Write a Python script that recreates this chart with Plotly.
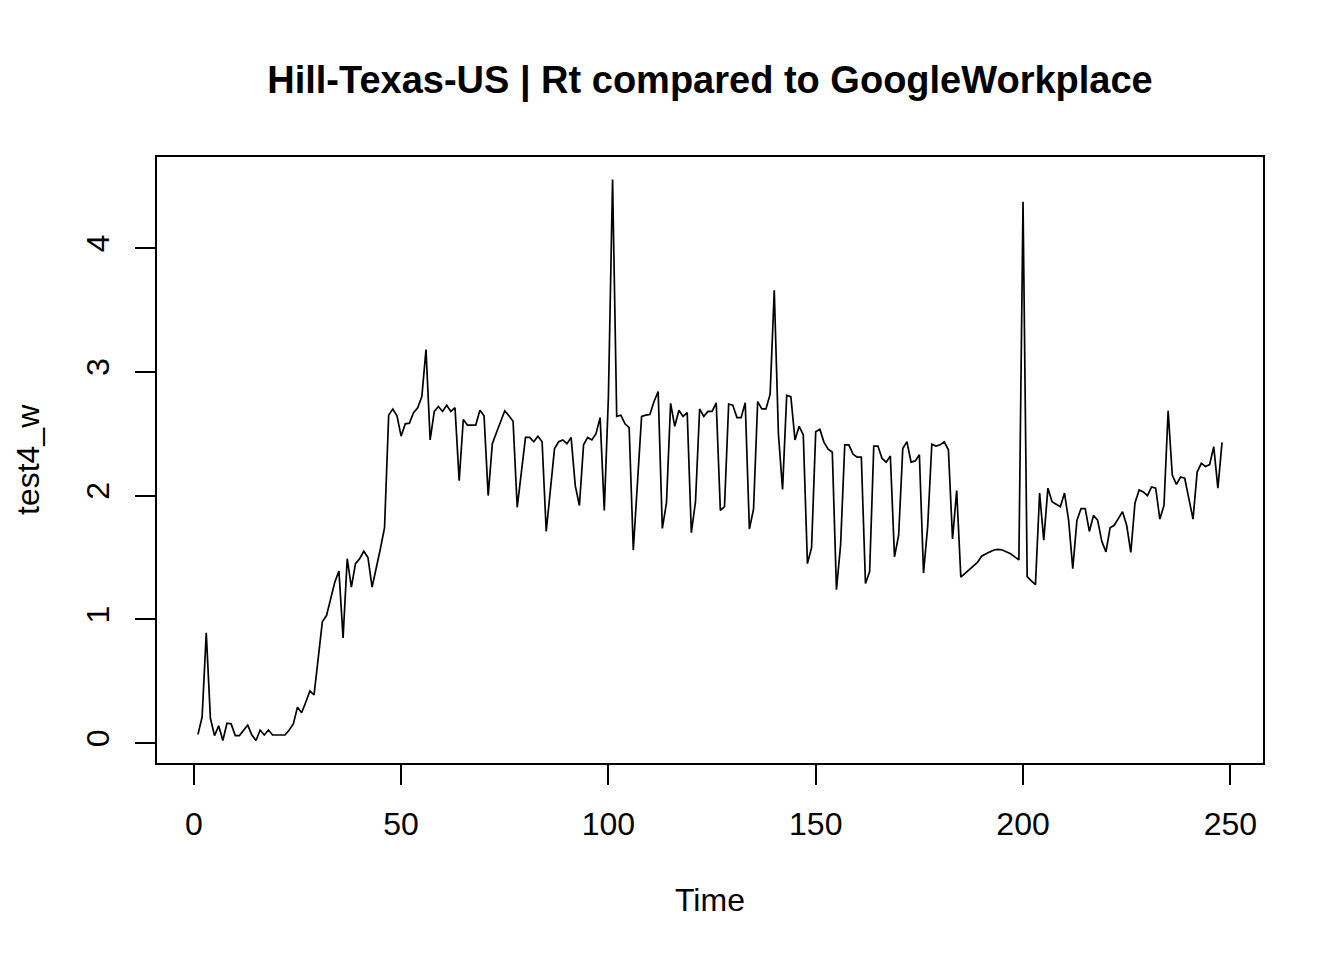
import plotly.graph_objects as go

# time index and values
time = list(range(1, 249))
test4_w = [
    0.07, 0.21, 0.89, 0.20, 0.06, 0.14, 0.02, 0.16, 0.155, 0.06,
    0.06, 0.105, 0.145, 0.065, 0.02, 0.105, 0.065, 0.105, 0.065, 0.065,
    0.065, 0.065, 0.105, 0.155, 0.29, 0.245, 0.33, 0.42, 0.39, 0.69,
    0.98, 1.03, 1.16, 1.30, 1.39, 0.85, 1.49, 1.26, 1.45, 1.49,
    1.55, 1.50, 1.26, 1.41, 1.57, 1.74, 2.65, 2.70, 2.645, 2.48,
    2.58, 2.585, 2.67, 2.71, 2.80, 3.18, 2.45, 2.68, 2.72, 2.68,
    2.73, 2.68, 2.71, 2.12, 2.615, 2.57, 2.57, 2.57, 2.69, 2.645,
    2.00, 2.42, 2.51, 2.59, 2.685, 2.645, 2.60, 1.905, 2.20, 2.47,
    2.47, 2.435, 2.48, 2.435, 1.71, 2.05, 2.38, 2.435, 2.45, 2.42,
    2.47, 2.08, 1.92, 2.41, 2.47, 2.45, 2.50, 2.63, 1.88, 2.80,
    4.555, 2.64, 2.65, 2.58, 2.55, 1.56, 2.15, 2.64, 2.65, 2.655,
    2.76, 2.84, 1.735, 1.94, 2.745, 2.56, 2.69, 2.64, 2.67, 1.70,
    1.95, 2.70, 2.64, 2.68, 2.68, 2.75, 1.88, 1.91, 2.74, 2.73,
    2.63, 2.63, 2.75, 1.73, 1.89, 2.76, 2.70, 2.70, 2.82, 3.66,
    2.50, 2.05, 2.81, 2.80, 2.45, 2.56, 2.49, 1.45, 1.58, 2.515,
    2.535, 2.43, 2.375, 2.35, 1.24, 1.60, 2.41, 2.41, 2.335, 2.31,
    2.31, 1.29, 1.385, 2.40, 2.40, 2.30, 2.27, 2.32, 1.505, 1.68,
    2.38, 2.435, 2.27, 2.28, 2.33, 1.375, 1.75, 2.415, 2.40, 2.41,
    2.435, 2.37, 1.65, 2.04, 1.34, 1.37, 1.40, 1.425, 1.46, 1.51,
    1.53, 1.545, 1.56, 1.565, 1.56, 1.545, 1.53, 1.505, 1.48, 4.375,
    1.345, 1.31, 1.28, 2.02, 1.64, 2.06, 1.95, 1.93, 1.91, 2.02,
    1.80, 1.41, 1.80, 1.895, 1.895, 1.71, 1.84, 1.80, 1.63, 1.545,
    1.74, 1.76, 1.81, 1.87, 1.76, 1.54, 1.94, 2.045, 2.03, 2.00,
    2.07, 2.06, 1.81, 1.92, 2.685, 2.165, 2.09, 2.15, 2.14, 1.96,
    1.81, 2.19, 2.26, 2.235, 2.25, 2.395, 2.06, 2.43,
]

x_ticks = [0, 50, 100, 150, 200, 250]
y_ticks = [0, 1, 2, 3, 4]

FONT = "Arial, Liberation Sans, sans-serif"

# R style 4% padding around the data range
xpad = (max(time) - min(time)) * 0.04
ypad = (max(test4_w) - min(test4_w)) * 0.04

fig = go.Figure()
fig.add_trace(go.Scatter(x=time, y=test4_w, mode='lines',
                         line=dict(color='black', width=1.7), showlegend=False))

# page body has an 8px margin, so the figure is 8px smaller and shifted
fig.update_layout(
    width=1336, height=952,
    margin=dict(l=149, r=81, t=149, b=197),
    paper_bgcolor='white', plot_bgcolor='white',
    font=dict(family=FONT, size=32, color='black'),
    title=dict(text='<b>Hill-Texas-US | Rt compared to GoogleWorkplace</b>',
               font=dict(family=FONT, size=38, color='black'),
               x=0.5, xref='paper', xanchor='center',
               y=1 - 72 / 952, yref='container', yanchor='middle'),
    annotations=[
        dict(text='Time', xref='paper', yref='paper', x=0.5, y=0,
             yshift=-137, xanchor='center', yanchor='middle', showarrow=False,
             font=dict(family=FONT, size=32)),
        dict(text='test4_w', xref='paper', yref='paper', x=0, y=0.5,
             xshift=-129, xanchor='center', yanchor='middle', showarrow=False,
             textangle=-90, font=dict(family=FONT, size=32)),
    ],
)

fig.update_xaxes(range=[min(time) - xpad, max(time) + xpad],
                 tickvals=x_ticks, ticks='outside', ticklen=20, tickwidth=2,
                 tickcolor='black', showline=True, linecolor='black', linewidth=2,
                 mirror=True, showgrid=False, zeroline=False, ticklabelstandoff=12)
fig.update_yaxes(range=[min(test4_w) - ypad, max(test4_w) + ypad],
                 tickvals=y_ticks, ticks='outside', ticklen=20, tickwidth=2,
                 tickcolor='black', showline=True, linecolor='black', linewidth=2,
                 mirror=True, showgrid=False, zeroline=False, tickangle=-90,
                 ticklabelstandoff=13)

fig.write_html("out.html")
